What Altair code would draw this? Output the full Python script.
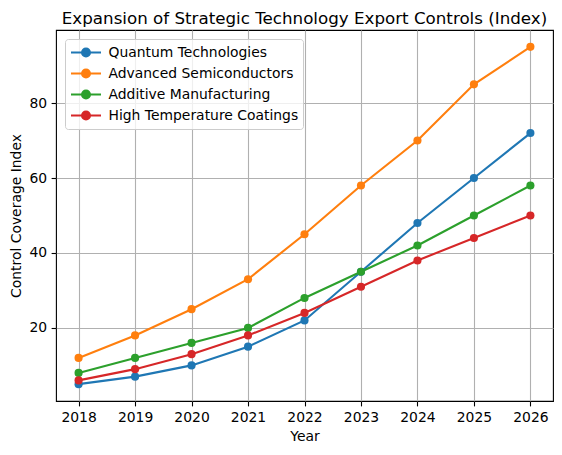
import altair as alt
import pandas as pd

years = [2018, 2019, 2020, 2021, 2022, 2023, 2024, 2025, 2026]
series = ["Quantum Technologies", "Advanced Semiconductors",
          "Additive Manufacturing", "High Temperature Coatings"]
quantum = [5, 7, 10, 15, 22, 35, 48, 60, 72]
semis = [12, 18, 25, 33, 45, 58, 70, 85, 95]
additive = [8, 12, 16, 20, 28, 35, 42, 50, 58]
coatings = [6, 9, 13, 18, 24, 31, 38, 44, 50]
colors = ["#1f77b4", "#ff7f0e", "#2ca02c", "#d62728"]

rows = []
for name, vals in zip(series, [quantum, semis, additive, coatings]):
    for y, v in zip(years, vals):
        rows.append({"Year": y, "Index": v, "Series": name})
df = pd.DataFrame(rows)

font = "DejaVu Sans"
# line with a dot in the middle, like matplotlib legend handles
# (path units are 7.5px at symbolSize 225, so the line is 30px wide)
handle = "M-1,0L3,0M0.47,0A0.53,0.53 0 1,1 1.53,0A0.53,0.53 0 1,1 0.47,0Z"

chart = alt.Chart(df).mark_line(
    strokeWidth=2.1,
    point=alt.OverlayMarkDef(filled=True, size=66, opacity=1),
).encode(
    x=alt.X("Year:Q", title="Year",
            scale=alt.Scale(domain=[2017.6, 2026.4], nice=False, zero=False),
            axis=alt.Axis(values=years, format="d", tickCount=9)),
    y=alt.Y("Index:Q", title="Control Coverage Index",
            scale=alt.Scale(domain=[0.5, 99.5], nice=False, zero=False),
            axis=alt.Axis(values=[20, 40, 60, 80])),
    color=alt.Color("Series:N", sort=series,
                    scale=alt.Scale(domain=series, range=colors),
                    legend=alt.Legend(title=None, orient="top-left", offset=9)),
    order=alt.Order("Year:Q"),
).properties(
    width=497,
    height=371,
    padding={"left": 48, "top": 22, "right": 1, "bottom": 46},
    autosize=alt.AutoSizeParams(type="none"),
    title=alt.Title("Expansion of Strategic Technology Export Controls (Index)",
                    anchor="middle", frame="group", fontSize=16.7,
                    fontWeight="normal", font=font, color="black", offset=2),
).configure_view(
    stroke="black", strokeWidth=1.1
).configure_axis(
    labelFont=font, titleFont=font, labelFontSize=13.9, titleFontSize=13.9,
    labelColor="black", titleColor="black", titleFontWeight="normal",
    grid=True, gridColor="#b0b0b0", gridWidth=1.1, domain=False,
    tickColor="black", tickWidth=1.1, tickSize=4.9, labelPadding=4.5,
).configure_axisX(
    titlePadding=5
).configure_axisY(
    titlePadding=5
).configure_legend(
    labelFont=font, labelFontSize=13.9, labelColor="black", labelLimit=400,
    symbolType=handle, symbolSize=225, symbolStrokeWidth=2.1,
    labelOffset=21, rowPadding=3, padding=4.5,
    strokeColor="#cccccc", fillColor="rgba(255,255,255,0.8)", cornerRadius=3,
)

chart.save("out.html", embed_options={"renderer": "svg", "actions": False})
